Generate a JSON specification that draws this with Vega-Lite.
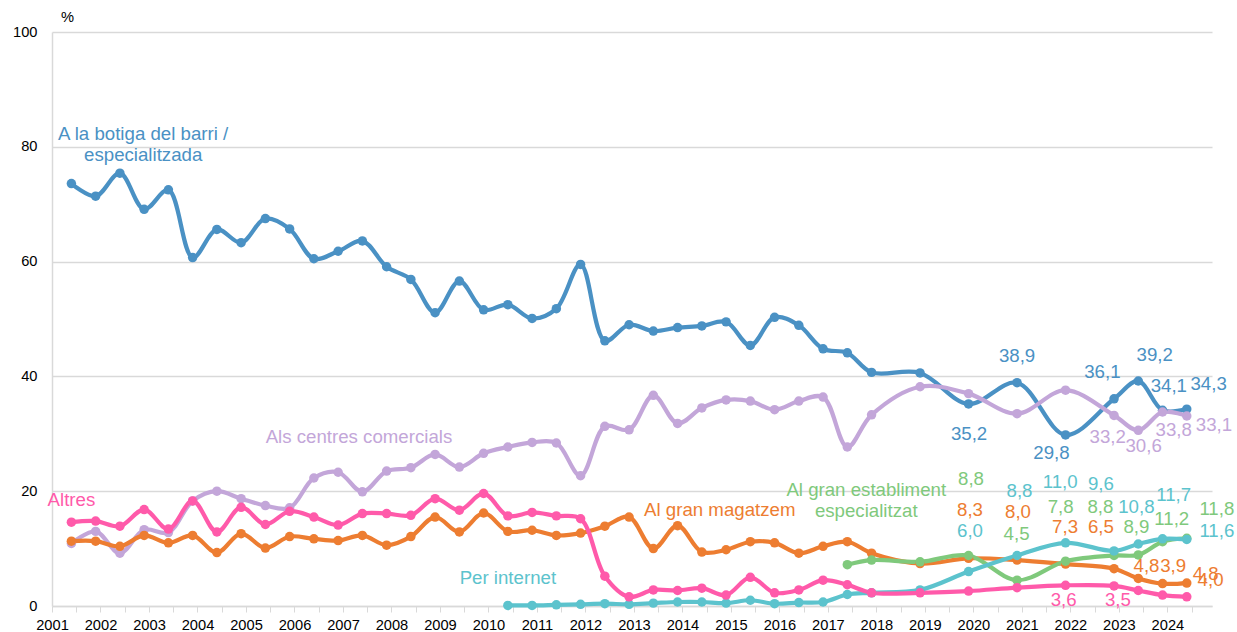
{
  "$schema": "https://vega.github.io/schema/vega-lite/v6.json",
  "width": 1160,
  "height": 574,
  "autosize": {"type": "none"},
  "padding": {"left": 52, "top": 32, "right": 25, "bottom": 26},
  "background": "white",
  "config": {
    "view": {"stroke": null},
    "font": "Liberation Sans",
    "text": {"font": "Liberation Sans"}
  },
  "datasets": {
    "series": [
      {"s": "botiga", "t": 2001.4, "v": 73.6}, {"s": "botiga", "t": 2001.9, "v": 71.4}, {"s": "botiga", "t": 2002.4, "v": 75.4}, {"s": "botiga", "t": 2002.9, "v": 69.1},
      {"s": "botiga", "t": 2003.4, "v": 72.5}, {"s": "botiga", "t": 2003.9, "v": 60.7}, {"s": "botiga", "t": 2004.4, "v": 65.6}, {"s": "botiga", "t": 2004.9, "v": 63.3},
      {"s": "botiga", "t": 2005.4, "v": 67.5}, {"s": "botiga", "t": 2005.9, "v": 65.7}, {"s": "botiga", "t": 2006.4, "v": 60.5}, {"s": "botiga", "t": 2006.9, "v": 61.8},
      {"s": "botiga", "t": 2007.4, "v": 63.6}, {"s": "botiga", "t": 2007.9, "v": 59.1}, {"s": "botiga", "t": 2008.4, "v": 56.9}, {"s": "botiga", "t": 2008.9, "v": 51.1},
      {"s": "botiga", "t": 2009.4, "v": 56.6}, {"s": "botiga", "t": 2009.9, "v": 51.6}, {"s": "botiga", "t": 2010.4, "v": 52.5}, {"s": "botiga", "t": 2010.9, "v": 50.1},
      {"s": "botiga", "t": 2011.4, "v": 51.8}, {"s": "botiga", "t": 2011.9, "v": 59.5}, {"s": "botiga", "t": 2012.4, "v": 46.2}, {"s": "botiga", "t": 2012.9, "v": 49.0},
      {"s": "botiga", "t": 2013.4, "v": 47.9}, {"s": "botiga", "t": 2013.9, "v": 48.5}, {"s": "botiga", "t": 2014.4, "v": 48.8}, {"s": "botiga", "t": 2014.9, "v": 49.5},
      {"s": "botiga", "t": 2015.4, "v": 45.4}, {"s": "botiga", "t": 2015.9, "v": 50.3}, {"s": "botiga", "t": 2016.4, "v": 48.9}, {"s": "botiga", "t": 2016.9, "v": 44.8},
      {"s": "botiga", "t": 2017.4, "v": 44.1}, {"s": "botiga", "t": 2017.9, "v": 40.7}, {"s": "botiga", "t": 2018.9, "v": 40.6}, {"s": "botiga", "t": 2019.9, "v": 35.2},
      {"s": "botiga", "t": 2020.9, "v": 38.9}, {"s": "botiga", "t": 2021.9, "v": 29.8}, {"s": "botiga", "t": 2022.9, "v": 36.1}, {"s": "botiga", "t": 2023.4, "v": 39.2},
      {"s": "botiga", "t": 2023.9, "v": 34.1}, {"s": "botiga", "t": 2024.4, "v": 34.3},

      {"s": "centres", "t": 2001.4, "v": 10.9}, {"s": "centres", "t": 2001.9, "v": 13.0}, {"s": "centres", "t": 2002.4, "v": 9.2}, {"s": "centres", "t": 2002.9, "v": 13.3},
      {"s": "centres", "t": 2003.4, "v": 12.8}, {"s": "centres", "t": 2003.9, "v": 18.3}, {"s": "centres", "t": 2004.4, "v": 20.0}, {"s": "centres", "t": 2004.9, "v": 18.7},
      {"s": "centres", "t": 2005.4, "v": 17.5}, {"s": "centres", "t": 2005.9, "v": 17.1}, {"s": "centres", "t": 2006.4, "v": 22.3}, {"s": "centres", "t": 2006.9, "v": 23.3},
      {"s": "centres", "t": 2007.4, "v": 19.9}, {"s": "centres", "t": 2007.9, "v": 23.5}, {"s": "centres", "t": 2008.4, "v": 24.1}, {"s": "centres", "t": 2008.9, "v": 26.4},
      {"s": "centres", "t": 2009.4, "v": 24.2}, {"s": "centres", "t": 2009.9, "v": 26.6}, {"s": "centres", "t": 2010.4, "v": 27.7}, {"s": "centres", "t": 2010.9, "v": 28.5},
      {"s": "centres", "t": 2011.4, "v": 28.4}, {"s": "centres", "t": 2011.9, "v": 22.7}, {"s": "centres", "t": 2012.4, "v": 31.3}, {"s": "centres", "t": 2012.9, "v": 30.7},
      {"s": "centres", "t": 2013.4, "v": 36.7}, {"s": "centres", "t": 2013.9, "v": 31.8}, {"s": "centres", "t": 2014.4, "v": 34.5}, {"s": "centres", "t": 2014.9, "v": 35.9},
      {"s": "centres", "t": 2015.4, "v": 35.7}, {"s": "centres", "t": 2015.9, "v": 34.2}, {"s": "centres", "t": 2016.4, "v": 35.7}, {"s": "centres", "t": 2016.9, "v": 36.4},
      {"s": "centres", "t": 2017.4, "v": 27.7}, {"s": "centres", "t": 2017.9, "v": 33.3}, {"s": "centres", "t": 2018.9, "v": 38.2}, {"s": "centres", "t": 2019.9, "v": 37.0},
      {"s": "centres", "t": 2020.9, "v": 33.5}, {"s": "centres", "t": 2021.9, "v": 37.6}, {"s": "centres", "t": 2022.9, "v": 33.2}, {"s": "centres", "t": 2023.4, "v": 30.6},
      {"s": "centres", "t": 2023.9, "v": 33.8}, {"s": "centres", "t": 2024.4, "v": 33.1},

      {"s": "magatzem", "t": 2001.4, "v": 11.3}, {"s": "magatzem", "t": 2001.9, "v": 11.3}, {"s": "magatzem", "t": 2002.4, "v": 10.4}, {"s": "magatzem", "t": 2002.9, "v": 12.3},
      {"s": "magatzem", "t": 2003.4, "v": 11.0}, {"s": "magatzem", "t": 2003.9, "v": 12.3}, {"s": "magatzem", "t": 2004.4, "v": 9.3}, {"s": "magatzem", "t": 2004.9, "v": 12.6},
      {"s": "magatzem", "t": 2005.4, "v": 10.1}, {"s": "magatzem", "t": 2005.9, "v": 12.1}, {"s": "magatzem", "t": 2006.4, "v": 11.7}, {"s": "magatzem", "t": 2006.9, "v": 11.4},
      {"s": "magatzem", "t": 2007.4, "v": 12.3}, {"s": "magatzem", "t": 2007.9, "v": 10.6}, {"s": "magatzem", "t": 2008.4, "v": 12.1}, {"s": "magatzem", "t": 2008.9, "v": 15.5},
      {"s": "magatzem", "t": 2009.4, "v": 12.9}, {"s": "magatzem", "t": 2009.9, "v": 16.2}, {"s": "magatzem", "t": 2010.4, "v": 13.0}, {"s": "magatzem", "t": 2010.9, "v": 13.2},
      {"s": "magatzem", "t": 2011.4, "v": 12.3}, {"s": "magatzem", "t": 2011.9, "v": 12.7}, {"s": "magatzem", "t": 2012.4, "v": 13.9}, {"s": "magatzem", "t": 2012.9, "v": 15.5},
      {"s": "magatzem", "t": 2013.4, "v": 10.0}, {"s": "magatzem", "t": 2013.9, "v": 14.0}, {"s": "magatzem", "t": 2014.4, "v": 9.4}, {"s": "magatzem", "t": 2014.9, "v": 9.8},
      {"s": "magatzem", "t": 2015.4, "v": 11.2}, {"s": "magatzem", "t": 2015.9, "v": 11.0}, {"s": "magatzem", "t": 2016.4, "v": 9.2}, {"s": "magatzem", "t": 2016.9, "v": 10.4},
      {"s": "magatzem", "t": 2017.4, "v": 11.2}, {"s": "magatzem", "t": 2017.9, "v": 9.2}, {"s": "magatzem", "t": 2018.9, "v": 7.4}, {"s": "magatzem", "t": 2019.9, "v": 8.3},
      {"s": "magatzem", "t": 2020.9, "v": 8.0}, {"s": "magatzem", "t": 2021.9, "v": 7.3}, {"s": "magatzem", "t": 2022.9, "v": 6.5}, {"s": "magatzem", "t": 2023.4, "v": 4.8},
      {"s": "magatzem", "t": 2023.9, "v": 3.9}, {"s": "magatzem", "t": 2024.4, "v": 4.0},

      {"s": "establiment", "t": 2017.4, "v": 7.2}, {"s": "establiment", "t": 2017.9, "v": 8.0}, {"s": "establiment", "t": 2018.9, "v": 7.7}, {"s": "establiment", "t": 2019.9, "v": 8.8},
      {"s": "establiment", "t": 2020.9, "v": 4.5}, {"s": "establiment", "t": 2021.9, "v": 7.8}, {"s": "establiment", "t": 2022.9, "v": 8.8}, {"s": "establiment", "t": 2023.4, "v": 8.9},
      {"s": "establiment", "t": 2023.9, "v": 11.2}, {"s": "establiment", "t": 2024.4, "v": 11.8},

      {"s": "internet", "t": 2010.4, "v": 0.1}, {"s": "internet", "t": 2010.9, "v": 0.1}, {"s": "internet", "t": 2011.4, "v": 0.2}, {"s": "internet", "t": 2011.9, "v": 0.3},
      {"s": "internet", "t": 2012.4, "v": 0.4}, {"s": "internet", "t": 2012.9, "v": 0.3}, {"s": "internet", "t": 2013.4, "v": 0.5}, {"s": "internet", "t": 2013.9, "v": 0.7},
      {"s": "internet", "t": 2014.4, "v": 0.7}, {"s": "internet", "t": 2014.9, "v": 0.5}, {"s": "internet", "t": 2015.4, "v": 1.0}, {"s": "internet", "t": 2015.9, "v": 0.4},
      {"s": "internet", "t": 2016.4, "v": 0.6}, {"s": "internet", "t": 2016.9, "v": 0.7}, {"s": "internet", "t": 2017.4, "v": 2.0}, {"s": "internet", "t": 2017.9, "v": 2.3},
      {"s": "internet", "t": 2018.9, "v": 2.8}, {"s": "internet", "t": 2019.9, "v": 6.0}, {"s": "internet", "t": 2020.9, "v": 8.8}, {"s": "internet", "t": 2021.9, "v": 11.0},
      {"s": "internet", "t": 2022.9, "v": 9.6}, {"s": "internet", "t": 2023.4, "v": 10.8}, {"s": "internet", "t": 2023.9, "v": 11.7}, {"s": "internet", "t": 2024.4, "v": 11.6},

      {"s": "altres", "t": 2001.4, "v": 14.6}, {"s": "altres", "t": 2001.9, "v": 14.8}, {"s": "altres", "t": 2002.4, "v": 13.9}, {"s": "altres", "t": 2002.9, "v": 16.8},
      {"s": "altres", "t": 2003.4, "v": 13.4}, {"s": "altres", "t": 2003.9, "v": 18.3}, {"s": "altres", "t": 2004.4, "v": 12.9}, {"s": "altres", "t": 2004.9, "v": 17.2},
      {"s": "altres", "t": 2005.4, "v": 14.2}, {"s": "altres", "t": 2005.9, "v": 16.5}, {"s": "altres", "t": 2006.4, "v": 15.5}, {"s": "altres", "t": 2006.9, "v": 14.1},
      {"s": "altres", "t": 2007.4, "v": 16.1}, {"s": "altres", "t": 2007.9, "v": 16.1}, {"s": "altres", "t": 2008.4, "v": 15.8}, {"s": "altres", "t": 2008.9, "v": 18.7},
      {"s": "altres", "t": 2009.4, "v": 16.7}, {"s": "altres", "t": 2009.9, "v": 19.6}, {"s": "altres", "t": 2010.4, "v": 15.7}, {"s": "altres", "t": 2010.9, "v": 16.3},
      {"s": "altres", "t": 2011.4, "v": 15.7}, {"s": "altres", "t": 2011.9, "v": 15.2}, {"s": "altres", "t": 2012.4, "v": 5.2}, {"s": "altres", "t": 2012.9, "v": 1.6},
      {"s": "altres", "t": 2013.4, "v": 2.8}, {"s": "altres", "t": 2013.9, "v": 2.7}, {"s": "altres", "t": 2014.4, "v": 3.1}, {"s": "altres", "t": 2014.9, "v": 1.9},
      {"s": "altres", "t": 2015.4, "v": 5.0}, {"s": "altres", "t": 2015.9, "v": 2.3}, {"s": "altres", "t": 2016.4, "v": 2.8}, {"s": "altres", "t": 2016.9, "v": 4.5},
      {"s": "altres", "t": 2017.4, "v": 3.7}, {"s": "altres", "t": 2017.9, "v": 2.3}, {"s": "altres", "t": 2018.9, "v": 2.3}, {"s": "altres", "t": 2019.9, "v": 2.6},
      {"s": "altres", "t": 2020.9, "v": 3.2}, {"s": "altres", "t": 2021.9, "v": 3.6}, {"s": "altres", "t": 2022.9, "v": 3.5}, {"s": "altres", "t": 2023.4, "v": 2.7},
      {"s": "altres", "t": 2023.9, "v": 1.9}, {"s": "altres", "t": 2024.4, "v": 1.6}
    ],
    "labels": [
      {"s": "botiga", "text": "A la botiga del barri /", "t": 2002.88, "v": 82.3},
      {"s": "botiga", "text": "especialitzada", "t": 2002.88, "v": 78.6},
      {"s": "centres", "text": "Als centres comercials", "t": 2007.33, "v": 29.4},
      {"s": "altres", "text": "Altres", "t": 2001.40, "v": 18.4},
      {"s": "magatzem", "text": "Al gran magatzem", "t": 2014.77, "v": 16.7},
      {"s": "establiment", "text": "Al gran establiment", "t": 2017.79, "v": 20.2},
      {"s": "establiment", "text": "especialitzat", "t": 2017.79, "v": 16.5},
      {"s": "internet", "text": "Per internet", "t": 2010.40, "v": 4.8},

      {"s": "botiga", "text": "35,2", "t": 2019.91, "v": 30.0},
      {"s": "botiga", "text": "38,9", "t": 2020.90, "v": 43.6},
      {"s": "botiga", "text": "29,8", "t": 2021.61, "v": 26.7},
      {"s": "botiga", "text": "36,1", "t": 2022.66, "v": 40.8},
      {"s": "botiga", "text": "39,2", "t": 2023.74, "v": 43.8},
      {"s": "botiga", "text": "34,1", "t": 2024.03, "v": 38.3},
      {"s": "botiga", "text": "34,3", "t": 2024.85, "v": 38.6},

      {"s": "centres", "text": "33,2", "t": 2022.77, "v": 29.5},
      {"s": "centres", "text": "30,6", "t": 2023.51, "v": 27.8},
      {"s": "centres", "text": "33,8", "t": 2024.13, "v": 30.6},
      {"s": "centres", "text": "33,1", "t": 2024.96, "v": 31.6},

      {"s": "establiment", "text": "8,8", "t": 2019.95, "v": 22.2},
      {"s": "establiment", "text": "4,5", "t": 2020.89, "v": 12.5},
      {"s": "establiment", "text": "7,8", "t": 2021.80, "v": 17.2},
      {"s": "establiment", "text": "8,8", "t": 2022.62, "v": 17.2},
      {"s": "establiment", "text": "8,9", "t": 2023.36, "v": 13.8},
      {"s": "establiment", "text": "11,2", "t": 2024.09, "v": 15.1},
      {"s": "establiment", "text": "11,8", "t": 2025.02, "v": 16.9},

      {"s": "internet", "text": "6,0", "t": 2019.93, "v": 13.0},
      {"s": "internet", "text": "8,8", "t": 2020.95, "v": 20.0},
      {"s": "internet", "text": "11,0", "t": 2021.79, "v": 21.6},
      {"s": "internet", "text": "9,6", "t": 2022.63, "v": 21.3},
      {"s": "internet", "text": "10,8", "t": 2023.36, "v": 17.2},
      {"s": "internet", "text": "11,7", "t": 2024.13, "v": 19.3},
      {"s": "internet", "text": "11,6", "t": 2025.02, "v": 13.0},

      {"s": "magatzem", "text": "8,3", "t": 2019.93, "v": 16.8},
      {"s": "magatzem", "text": "8,0", "t": 2020.92, "v": 16.3},
      {"s": "magatzem", "text": "7,3", "t": 2021.89, "v": 13.8},
      {"s": "magatzem", "text": "6,5", "t": 2022.63, "v": 13.8},
      {"s": "magatzem", "text": "4,8", "t": 2023.57, "v": 6.9},
      {"s": "magatzem", "text": "3,9", "t": 2024.12, "v": 6.9},
      {"s": "magatzem", "text": "4,8", "t": 2024.79, "v": 5.5},
      {"s": "magatzem", "text": "4,0", "t": 2024.89, "v": 4.5},

      {"s": "altres", "text": "3,6", "t": 2021.86, "v": 1.0},
      {"s": "altres", "text": "3,5", "t": 2022.98, "v": 1.0}
    ]
  },
  "encoding": {
    "x": {
      "field": "t", "type": "quantitative",
      "scale": {"domain": [2001, 2024.92], "nice": false, "zero": false},
      "axis": {
        "title": null,
        "values": [2001, 2001.5, 2002, 2002.5, 2003, 2003.5, 2004, 2004.5, 2005, 2005.5, 2006, 2006.5, 2007, 2007.5, 2008, 2008.5, 2009, 2009.5, 2010, 2010.5, 2011, 2011.5, 2012, 2012.5, 2013, 2013.5, 2014, 2014.5, 2015, 2015.5, 2016, 2016.5, 2017, 2017.5, 2018, 2018.5, 2019, 2019.5, 2020, 2020.5, 2021, 2021.5, 2022, 2022.5, 2023, 2023.5, 2024, 2024.5],
        "labelExpr": "datum.value % 1 === 0 ? format(datum.value, 'd') : ''",
        "grid": false,
        "domainColor": "#d9d9d9",
        "domainWidth": 1.5,
        "tickColor": "#d9d9d9",
        "tickSize": 6,
        "labelFontSize": 14.67,
        "labelColor": "#000000",
        "labelPadding": 5,
        "labelOverlap": false,
        "labelFlush": false
      }
    },
    "y": {
      "field": "v", "type": "quantitative",
      "scale": {"domain": [0, 100], "nice": false},
      "axis": {
        "title": "%",
        "titleAngle": 0,
        "titleX": 15,
        "titleY": -15,
        "titleAlign": "center",
        "titleBaseline": "middle",
        "titleFontWeight": "normal",
        "titleFontSize": 14.67,
        "titleColor": "#000000",
        "values": [0, 20, 40, 60, 80, 100],
        "grid": true,
        "gridColor": "#d9d9d9",
        "gridWidth": 1.5,
        "domainColor": "#d9d9d9",
        "domainWidth": 1.5,
        "ticks": false,
        "labelFontSize": 14.67,
        "labelColor": "#000000",
        "labelPadding": 15
      }
    },
    "color": {
      "field": "s", "type": "nominal",
      "scale": {
        "domain": ["establiment", "internet", "magatzem", "altres", "centres", "botiga"],
        "range": ["#7fc97c", "#5cc3cd", "#ed7d31", "#ff5aaa", "#c3a6d9", "#4a91c4"]
      },
      "legend": null
    }
  },
  "layer": [
    {
      "data": {"name": "series"},
      "mark": {"type": "line", "interpolate": "catmull-rom", "strokeWidth": 4.2, "point": {"filled": true, "size": 90, "opacity": 1}}
    },
    {
      "data": {"name": "labels"},
      "mark": {"type": "text", "align": "center", "baseline": "middle", "fontSize": 18.67},
      "encoding": {"text": {"field": "text", "type": "nominal"}}
    }
  ]
}
